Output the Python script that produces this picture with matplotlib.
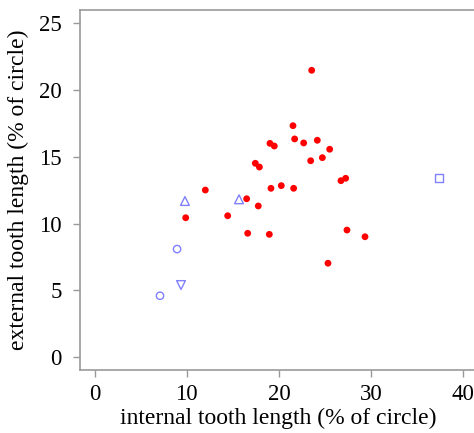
import matplotlib
matplotlib.use("Agg")
import matplotlib.pyplot as plt

# Red filled points (internal, external tooth length)
red_x = [23.56, 21.53, 21.71, 22.69, 24.17, 25.51, 19.03, 19.50, 23.45, 24.72,
         17.44, 17.88, 26.74, 27.25, 12.01, 19.14, 20.26, 21.60, 16.50, 17.76,
         9.88, 14.44, 16.61, 18.96, 27.39, 29.35, 25.33]
red_y = [21.45, 17.31, 16.32, 16.02, 16.22, 15.55, 15.99, 15.79, 14.69, 14.92,
         14.50, 14.22, 13.20, 13.38, 12.50, 12.63, 12.83, 12.63, 11.85, 11.31,
         10.43, 10.58, 9.27, 9.19, 9.51, 9.01, 7.03]

# Blue open markers
tri_up_x = [9.80, 15.67]
tri_up_y = [11.68, 11.81]
circ_x = [8.94, 7.09]
circ_y = [8.09, 4.60]
tri_down_x = [9.37]
tri_down_y = [5.40]
square_x = [37.38]
square_y = [13.38]

xticks = [0, 10, 20, 30, 40]
yticks = [0, 5, 10, 15, 20, 25]

plt.rcParams['font.family'] = ['Liberation Serif', 'DejaVu Serif']

fig = plt.figure(figsize=(4.74, 4.33), dpi=100)
W, H = 474, 433
left, right, top, bottom = 79.7, 476, 10, 370
ax = fig.add_axes([left / W, 1 - bottom / H, (right - left) / W, (bottom - top) / H])

blue = '#8080ff'
ax.scatter(red_x, red_y, s=24, c='#ff0000', edgecolors='none', zorder=3)
ax.scatter(tri_up_x, tri_up_y, s=40, marker='^', facecolors='none', edgecolors=blue, linewidths=1.0, zorder=3)
ax.scatter(circ_x, circ_y, s=28, marker='o', facecolors='none', edgecolors=blue, linewidths=1.0, zorder=3)
ax.scatter(tri_down_x, tri_down_y, s=40, marker='v', facecolors='none', edgecolors=blue, linewidths=1.0, zorder=3)
ax.scatter(square_x, square_y, s=30, marker='s', facecolors='none', edgecolors=blue, linewidths=1.0, zorder=3)

x0 = (left - 94.7) / 9.21
x1 = (right - 94.7) / 9.21
ax.set_xlim(x0, x1)
ax.set_ylim((357.3 - bottom) / 13.38, (357.3 - top) / 13.38)

ax.set_xticks(xticks)
ax.set_yticks(yticks)
ax.set_xticklabels([str(v) for v in xticks])
ax.set_yticklabels([str(v) for v in yticks])

for s in ['top', 'right', 'left', 'bottom']:
    ax.spines[s].set_color('#999999')
    ax.spines[s].set_linewidth(1.2)
ax.tick_params(axis='both', direction='out', length=5, width=1.0, color='#999999',
               labelsize=16.5, labelcolor='black')
ax.tick_params(axis='x', pad=5)
ax.tick_params(axis='y', pad=8)

ax.set_xlabel('internal tooth length (% of circle)', fontsize=17, labelpad=2)
ax.set_ylabel('external tooth length (% of circle)', fontsize=17, labelpad=7)

fig.savefig('out.png', dpi=100)
